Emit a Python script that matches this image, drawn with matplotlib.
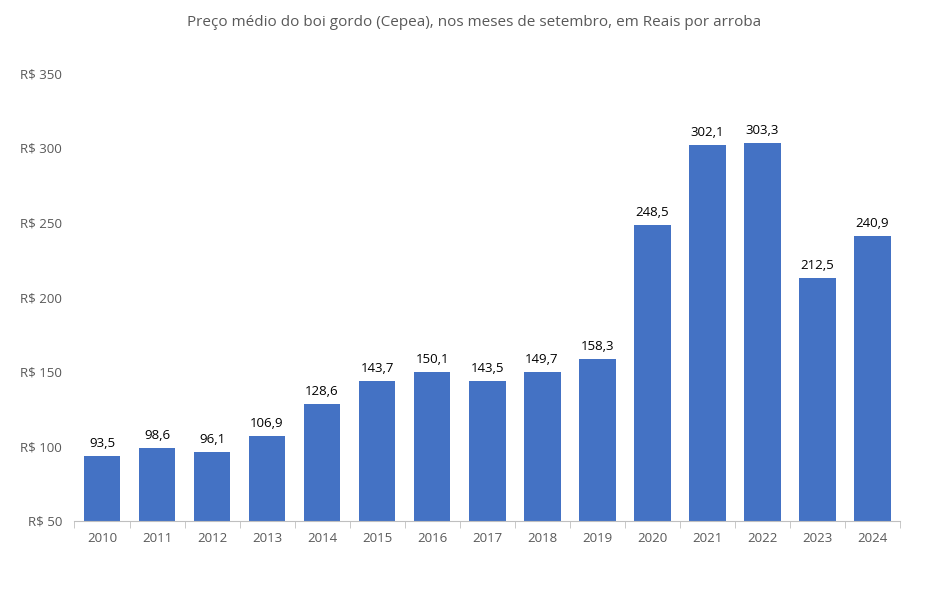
import matplotlib
matplotlib.use("Agg")
import matplotlib.pyplot as plt

years = ["2010", "2011", "2012", "2013", "2014", "2015", "2016", "2017",
         "2018", "2019", "2020", "2021", "2022", "2023", "2024"]
prices = [93.5, 98.6, 96.1, 106.9, 128.6, 143.7, 150.1, 143.5,
          149.7, 158.3, 248.5, 302.1, 303.3, 212.5, 240.9]
yticks = [50, 100, 150, 200, 250, 300, 350]
title = "Preço médio do boi gordo (Cepea), nos meses de setembro, em Reais por arroba"

plt.rcParams['font.family'] = ['Open Sans', 'DejaVu Sans']

fig = plt.figure(figsize=(9.49, 5.9), dpi=100)
ax = fig.add_axes([0.0785, 0.117, 0.8695, 0.759])

x = list(range(len(years)))
bars = ax.bar(x, [p - 50 for p in prices], bottom=50, width=0.67, color="#4472C4")
for xi, p in zip(x, prices):
    ax.text(xi, p + 4, f"{p:.1f}".replace(".", ","), ha="center", va="bottom",
            fontsize=9.5, color="black")

ax.set_xlim(-0.5, len(years) - 0.5)
ax.set_ylim(50, 350)
ax.set_yticks(yticks)
ax.set_yticklabels([f"R$ {v}" for v in yticks], fontsize=9.5, color="#595959")
ax.set_xticks(x)
ax.set_xticklabels(years, fontsize=9.5, color="#595959")
ax.set_xticks([i - 0.5 for i in range(len(years) + 1)], minor=True)
ax.tick_params(axis="x", which="major", length=0, pad=8)
ax.tick_params(axis="x", which="minor", length=5, color="#BFBFBF", direction="out")
ax.tick_params(axis="y", length=0, pad=9)
for s in ["top", "right", "left"]:
    ax.spines[s].set_visible(False)
ax.spines["bottom"].set_color("#BFBFBF")
ax.spines["bottom"].set_linewidth(0.8)

fig.text(0.5, 0.962, title, ha="center", va="center", fontsize=11, color="#595959")

fig.savefig("out.png", dpi=100, facecolor="white")
